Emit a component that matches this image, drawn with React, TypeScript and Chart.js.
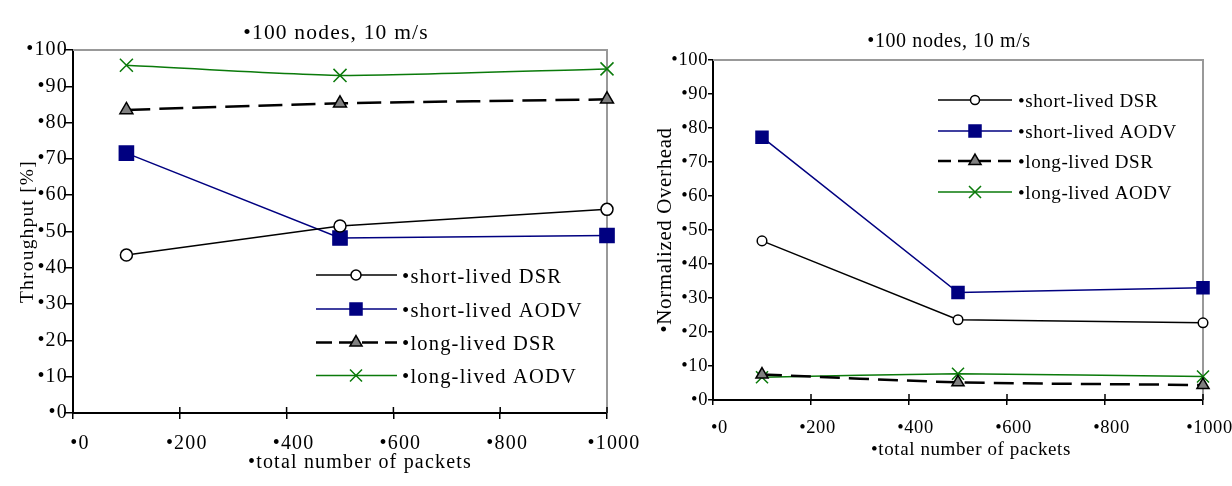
import React, { useEffect, useRef } from 'react';
import { Chart, registerables } from 'chart.js';

Chart.register(...registerables);

// ---------------- data ----------------
const packets = [100, 500, 1000];
const seriesLabels = ['•short-lived DSR', '•short-lived AODV', '•long-lived DSR', '•long-lived AODV'];

const throughputShortDSR = [43.5, 51.5, 56.1];
const throughputShortAODV = [71.6, 48.2, 48.9];
const throughputLongDSR = [83.5, 85.3, 86.4];
const throughputLongAODV = [95.8, 93.0, 94.8];

const overheadShortDSR = [46.8, 23.6, 22.7];
const overheadShortAODV = [77.3, 31.6, 33.0];
const overheadLongDSR = [7.5, 5.2, 4.4];
const overheadLongAODV = [6.7, 7.7, 6.9];

const xTickValues = [0, 200, 400, 600, 800, 1000];
const yTickValues = [0, 10, 20, 30, 40, 50, 60, 70, 80, 90, 100];
const tickPrefix = '•';
const chartTitleText = '•100 nodes, 10 m/s';
const xAxisTitle = '•total number of packets';
const throughputAxisTitle = 'Throughput [%]';
const overheadAxisTitle = '•Normalized Overhead';

// ---------------- styles ----------------
const FONT = "'Liberation Serif', 'Times New Roman', serif";

type SeriesStyle = { color: string; width: number; dashed: boolean; point: string; fill: string; pointBorder: string; smooth: boolean };
const seriesStyles: SeriesStyle[] = [
  { color: '#000000', width: 1.5, dashed: false, point: 'circle', fill: '#ffffff', pointBorder: '#000000', smooth: false },
  { color: '#000080', width: 1.5, dashed: false, point: 'rect', fill: '#000080', pointBorder: '#000080', smooth: false },
  { color: '#000000', width: 2.5, dashed: true, point: 'triangle', fill: '#808080', pointBorder: '#000000', smooth: true },
  { color: '#0a7a0a', width: 1.5, dashed: false, point: 'crossRot', fill: '#0a7a0a', pointBorder: '#0a7a0a', smooth: true },
];

type Layout = {
  width: number; height: number;
  areaLeft: number; areaRight: number; areaTop: number; areaBottom: number;
  tickFont: number; spacing: number;
  titleX: number; titleY: number; titleFont: number;
  xTitleX: number; xTitleY: number; xTitleFont: number;
  yTitleFont: number; yTitlePad: number;
  yTickLen: number; yTickPad: number; xTickLen: number; xTickPad: number; labelOffset: number;
  legendX0: number; legendX1: number; legendMarkX: number; legendTextX: number;
  legendRows: number[]; legendBaseOffset: number; legendFont: number;
  markerSizes: number[]; legendMarkerSizes: number[];
  dash: number[]; legendDash: number[];
};

const leftLayout: Layout = {
  width: 660, height: 486,
  areaLeft: 73, areaRight: 607, areaTop: 50, areaBottom: 413,
  tickFont: 20, spacing: 1.2,
  titleX: 336, titleY: 39, titleFont: 21.5,
  xTitleX: 360, xTitleY: 468, xTitleFont: 20,
  yTitleFont: 19.5, yTitlePad: 16,
  yTickLen: 9, yTickPad: -4, xTickLen: 6, xTickPad: 13, labelOffset: 7,
  legendX0: 316, legendX1: 397, legendMarkX: 356, legendTextX: 402,
  legendRows: [275, 309, 342.5, 375.5], legendBaseOffset: 7.5, legendFont: 20.5,
  markerSizes: [6, 10, 7.5, 9.2], legendMarkerSizes: [5, 8.5, 7, 8.5],
  dash: [24, 9], legendDash: [16, 7],
};

const rightLayout: Layout = {
  width: 602, height: 486,
  areaLeft: 83, areaRight: 573, areaTop: 60, areaBottom: 400,
  tickFont: 18.5, spacing: 0.6,
  titleX: 319, titleY: 47, titleFont: 20,
  xTitleX: 341, xTitleY: 455, xTitleFont: 19,
  yTitleFont: 21, yTitlePad: 23,
  yTickLen: 5, yTickPad: 0, xTickLen: 5, xTickPad: 12, labelOffset: 6.5,
  legendX0: 308, legendX1: 382, legendMarkX: 345, legendTextX: 388,
  legendRows: [100, 131, 161, 192], legendBaseOffset: 6.5, legendFont: 19,
  markerSizes: [4.8, 8.5, 7, 8.5], legendMarkerSizes: [4.5, 8.5, 7, 8.5],
  dash: [20, 9], legendDash: [13, 7],
};

function drawMarker(ctx: CanvasRenderingContext2D, style: string, x: number, y: number, r: number, fill: string, stroke: string) {
  ctx.save();
  ctx.setLineDash([]);
  ctx.lineWidth = 1.5;
  ctx.fillStyle = fill;
  ctx.strokeStyle = stroke;
  ctx.beginPath();
  if (style === 'circle') {
    ctx.arc(x, y, r, 0, Math.PI * 2);
    ctx.fill();
    ctx.stroke();
  } else if (style === 'rect') {
    const s = r * Math.SQRT1_2;
    ctx.rect(x - s, y - s, 2 * s, 2 * s);
    ctx.fill();
    ctx.stroke();
  } else if (style === 'triangle') {
    let a = 0;
    ctx.moveTo(x + Math.sin(a) * r, y - Math.cos(a) * r);
    a += (2 * Math.PI) / 3;
    ctx.lineTo(x + Math.sin(a) * r, y - Math.cos(a) * r);
    a += (2 * Math.PI) / 3;
    ctx.lineTo(x + Math.sin(a) * r, y - Math.cos(a) * r);
    ctx.closePath();
    ctx.fill();
    ctx.stroke();
  } else {
    const d = r * Math.SQRT1_2;
    ctx.moveTo(x - d, y - d);
    ctx.lineTo(x + d, y + d);
    ctx.moveTo(x - d, y + d);
    ctx.lineTo(x + d, y - d);
    ctx.stroke();
  }
  ctx.restore();
}

function makeDecor(L: Layout) {
  const setSpacing = (chart: any) => {
    try { (chart.ctx as any).letterSpacing = L.spacing + 'px'; } catch (e) { /* ignore */ }
  };
  return {
    id: 'decor',
    beforeLayout(chart: any) { setSpacing(chart); },
    beforeDraw(chart: any) { setSpacing(chart); },
    beforeDatasetsDraw(chart: any) {
      const { ctx, chartArea } = chart;
      ctx.save();
      ctx.setLineDash([]);
      ctx.strokeStyle = '#999999';
      ctx.lineWidth = 2;
      ctx.beginPath();
      ctx.moveTo(chartArea.left, chartArea.top);
      ctx.lineTo(chartArea.right, chartArea.top);
      ctx.lineTo(chartArea.right, chartArea.bottom);
      ctx.stroke();
      // inner half of x tick marks
      const xs = chart.scales.x;
      ctx.strokeStyle = '#000';
      ctx.lineWidth = 1.5;
      ctx.beginPath();
      xTickValues.forEach((v) => {
        if (v === 0) return;
        const px = xs.getPixelForValue(v);
        ctx.moveTo(px, chartArea.bottom - 6);
        ctx.lineTo(px, chartArea.bottom);
      });
      ctx.stroke();
      ctx.restore();
    },
    afterDraw(chart: any) {
      const ctx: CanvasRenderingContext2D = chart.ctx;
      ctx.save();
      setSpacing(chart);
      ctx.fillStyle = '#000';
      ctx.textAlign = 'center';
      ctx.textBaseline = 'alphabetic';
      ctx.font = `${L.titleFont}px ${FONT}`;
      ctx.fillText(chartTitleText, L.titleX, L.titleY);
      ctx.font = `${L.xTitleFont}px ${FONT}`;
      ctx.fillText(xAxisTitle, L.xTitleX, L.xTitleY);

      // legend
      seriesLabels.forEach((label, i) => {
        const st = seriesStyles[i];
        const y = L.legendRows[i];
        ctx.save();
        ctx.strokeStyle = st.color;
        ctx.lineWidth = st.width;
        ctx.setLineDash(st.dashed ? L.legendDash : []);
        ctx.beginPath();
        ctx.moveTo(L.legendX0, y);
        ctx.lineTo(L.legendX1, y);
        ctx.stroke();
        ctx.restore();
        drawMarker(ctx, st.point, L.legendMarkX, y, L.legendMarkerSizes[i], st.fill, st.pointBorder);
        ctx.fillStyle = '#000';
        ctx.textAlign = 'left';
        ctx.font = `${L.legendFont}px ${FONT}`;
        ctx.fillText(label, L.legendTextX, y + L.legendBaseOffset);
      });
      ctx.restore();
    },
  };
}

function buildConfig(L: Layout, values: number[][], yTitle: string): any {
  const datasets = values.map((vals, i) => {
    const st = seriesStyles[i];
    return {
      label: seriesLabels[i],
      data: packets.map((x, j) => ({ x, y: vals[j] })),
      borderColor: st.color,
      backgroundColor: st.fill,
      borderWidth: st.width,
      borderDash: st.dashed ? L.dash : [],
      pointStyle: st.point,
      pointRadius: L.markerSizes[i],
      pointBackgroundColor: st.fill,
      pointBorderColor: st.pointBorder,
      pointBorderWidth: 1.5,
      tension: st.smooth ? 0.2 : 0,
      fill: false,
      clip: false,
    };
  });
  return {
    type: 'line',
    data: { datasets },
    plugins: [makeDecor(L)],
    options: {
      responsive: false,
      animation: false,
      events: [],
      layout: { padding: { left: 0, top: L.areaTop, right: L.width - L.areaRight, bottom: 0 } },
      plugins: { legend: { display: false }, title: { display: false }, tooltip: { enabled: false } },
      scales: {
        x: {
          type: 'linear',
          min: 0,
          max: 1000,
          afterBuildTicks: (s: any) => { s.ticks = xTickValues.map((v) => ({ value: v })); },
          afterFit: (s: any) => { s.height = L.height - L.areaBottom; s.paddingLeft = 0; s.paddingRight = 0; },
          grid: { display: true, drawOnChartArea: false, drawTicks: true, tickLength: L.xTickLen, color: '#000', lineWidth: 1.5 },
          border: { display: true, color: '#000', width: 2 },
          ticks: {
            padding: L.xTickPad,
            labelOffset: L.labelOffset,
            color: '#000',
            font: { family: FONT, size: L.tickFont },
            maxRotation: 0,
            autoSkip: false,
            callback: (v: any) => tickPrefix + v,
          },
          title: { display: false },
        },
        y: {
          type: 'linear',
          min: 0,
          max: 100,
          afterBuildTicks: (s: any) => { s.ticks = yTickValues.map((v) => ({ value: v })); },
          afterFit: (s: any) => { s.width = L.areaLeft; s.paddingTop = 0; s.paddingBottom = 0; },
          grid: { display: true, drawOnChartArea: false, drawTicks: true, tickLength: L.yTickLen, color: '#000', lineWidth: 1.5 },
          border: { display: true, color: '#000', width: 2 },
          ticks: {
            padding: L.yTickPad,
            color: '#000',
            font: { family: FONT, size: L.tickFont },
            autoSkip: false,
            callback: (v: any) => tickPrefix + v,
          },
          title: {
            display: true,
            text: yTitle,
            color: '#000',
            font: { family: FONT, size: L.yTitleFont },
            padding: { top: L.yTitlePad, bottom: 0 },
          },
        },
      },
    },
  };
}

function Panel({ left, L, values, yTitle }: { left: number; L: Layout; values: number[][]; yTitle: string }) {
  const ref = useRef<HTMLCanvasElement>(null);
  useEffect(() => {
    if (!ref.current) return;
    const chart = new Chart(ref.current, buildConfig(L, values, yTitle));
    return () => chart.destroy();
  }, []);
  return (
    <canvas
      ref={ref}
      width={L.width}
      height={L.height}
      style={{ position: 'absolute', left, top: 0, width: L.width, height: L.height }}
    />
  );
}

export default function App() {
  return (
    <div style={{ position: 'fixed', left: 0, top: 0, width: 1232, height: 486, background: '#ffffff', overflow: 'hidden' }}>
      <Panel
        left={0}
        L={leftLayout}
        values={[throughputShortDSR, throughputShortAODV, throughputLongDSR, throughputLongAODV]}
        yTitle={throughputAxisTitle}
      />
      <Panel
        left={630}
        L={rightLayout}
        values={[overheadShortDSR, overheadShortAODV, overheadLongDSR, overheadLongAODV]}
        yTitle={overheadAxisTitle}
      />
    </div>
  );
}
